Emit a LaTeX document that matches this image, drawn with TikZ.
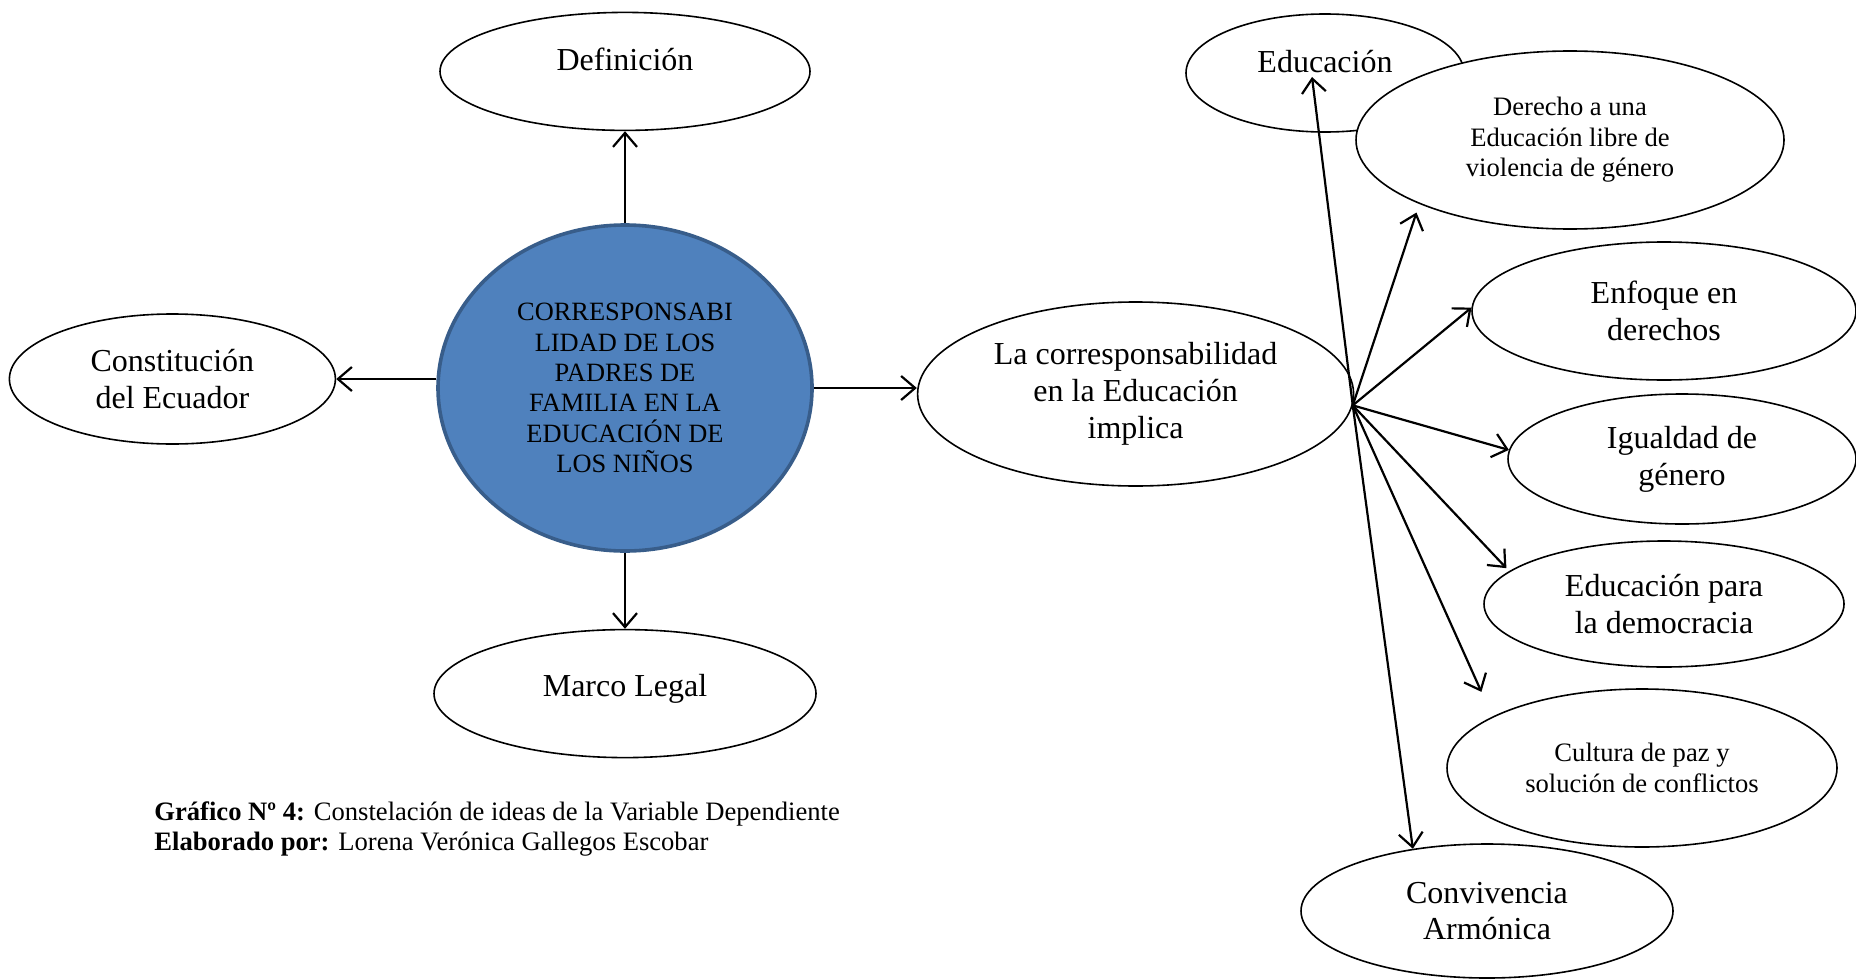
\documentclass[tikz,border=0pt]{standalone}
\usepackage{fontspec}
\setmainfont{Liberation Serif}
\usetikzlibrary{shapes.geometric, arrows.meta, positioning}

\definecolor{coreblue}{HTML}{4F81BD}
\definecolor{coreedge}{HTML}{385D8A}

\begin{document}
\begin{tikzpicture}[
    x=0.5pt, y=-0.5pt,
    idea/.style={ellipse, draw, fill=white, inner sep=0pt, align=center, line width=0.8pt, font=\fontsize{16}{18.4}\selectfont},
    small/.style={font=\fontsize{13.3}{15.3}\selectfont},
    core/.style={ellipse, draw=coreedge, fill=coreblue, line width=1.8pt, inner sep=0pt, align=center, font=\fontsize{13.2}{15.2}\selectfont, minimum width=187pt, minimum height=163pt},
    arrow/.style={-{Straight Barb[length=7pt,width=12pt]}, line width=1.1pt}
]
\useasboundingbox (0,0) rectangle (1856,979);

% Center - main variable
\node [core] (core) at (625,388) {CORRESPONSABI\\LIDAD DE LOS\\PADRES DE\\FAMILIA EN LA\\EDUCACIÓN DE\\LOS NIÑOS};

% Left side ideas
\node [idea, minimum width=185pt, minimum height=59pt, text depth=12pt, above=46pt of core] (def) {Definición};
\node [idea, minimum width=163pt, minimum height=65pt, left=50pt of core, yshift=4.5pt] (const) {Constitución\\del Ecuador};
\node [idea, minimum width=191pt, minimum height=64pt, text depth=8pt, below=38pt of core] (marco) {Marco Legal};
\node [idea, minimum width=218pt, minimum height=92pt, right=51.5pt of core, yshift=-3pt] (corresp) {La corresponsabilidad\\en la Educación\\implica};

% Right side ideas
\node [idea, minimum width=139pt, minimum height=59pt, text depth=12pt] (educ) at (1325,73) {Educación};
\node [idea, small, minimum width=214pt, minimum height=89pt] (derecho) at (1570,140) {Derecho a una\\Educación libre de\\violencia de género};
\node [idea, minimum width=192pt, minimum height=69pt] (enfoque) at (1664,311) {Enfoque en\\derechos};
\node [idea, minimum width=174pt, minimum height=65pt] (igualdad) at (1682,459) {Igualdad de\\género};
\node [idea, minimum width=180pt, minimum height=63pt] (democ) at (1664,604) {Educación para\\la democracia};
\node [idea, small, minimum width=195pt, minimum height=79pt] (cultura) at (1642,768) {Cultura de paz y\\solución de conflictos};
\node [idea, minimum width=186pt, minimum height=67pt] (conviv) at (1487,911) {Convivencia\\Armónica};

% Caption
\node [anchor=north west, align=left, inner sep=0pt, font=\fontsize{13.3}{15}\selectfont] (caption) at (154,801) {\textbf{Gráfico Nº 4:} Constelación de ideas de la Variable Dependiente\\\textbf{Elaborado por:} Lorena Verónica Gallegos Escobar};

% Arrows
\draw [arrow] (core) -- (def);
\draw [arrow] ([yshift=4.5pt]core.west) -- (const.east);
\draw [arrow] (core) -- (marco);
\draw [arrow] (core.east) -- (core.east -| corresp.west);

\coordinate (hub) at (corresp.-3);
\draw [arrow] (hub) -- ([xshift=-6.5pt,yshift=-2pt]educ.center);
\draw [arrow, shorten >=4.5pt] (hub) -- (derecho.203);
\draw [arrow] (hub) -- (enfoque.179);
\draw [arrow] (hub) -- (igualdad.177);
\draw [arrow, shorten >=2pt] (hub) -- (democ.168);
\draw [arrow, shorten >=13.5pt] (hub) -- (cultura.161);
\draw [arrow] (hub) -- (conviv.140);

\end{tikzpicture}
\end{document}
